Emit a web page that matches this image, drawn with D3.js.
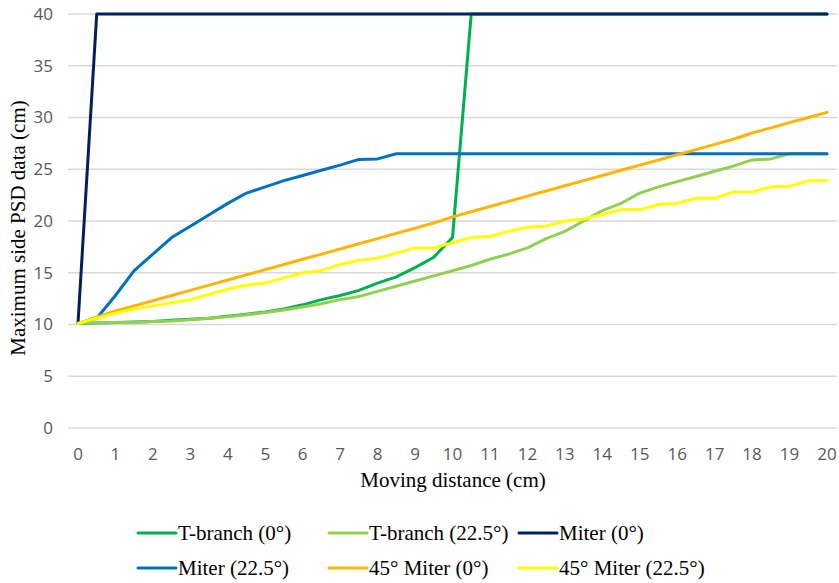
<!DOCTYPE html>
<html>
<head>
<meta charset="utf-8">
<script src="https://cdn.jsdelivr.net/npm/d3@7"></script>
<style>
  body { margin: 0; background: #fff; }
  .tick-label { font-family: "Open Sans", sans-serif; font-size: 17px; fill: #595959; }
  .title { font-family: "Liberation Serif", "Times New Roman", serif; font-size: 21px; fill: #000; }
  .legend-text { font-family: "Liberation Serif", "Times New Roman", serif; font-size: 21px; fill: #000; }
</style>
</head>
<body>
<div id="app"></div>
<script>
// moving distance (cm)
const distance = [0, 0.5, 1, 1.5, 2, 2.5, 3, 3.5, 4, 4.5, 5, 5.5, 6, 6.5, 7, 7.5, 8, 8.5, 9, 9.5, 10,
  10.5, 11, 11.5, 12, 12.5, 13, 13.5, 14, 14.5, 15, 15.5, 16, 16.5, 17, 17.5, 18, 18.5, 19, 19.5, 20]

const tBranch0 = [10.1, 10.15, 10.2, 10.25, 10.3, 10.4, 10.5, 10.6, 10.8, 11.0, 11.2, 11.5, 11.9, 12.4, 12.8, 13.3, 14.0, 14.6, 15.5, 16.5, 18.4,
  40, 40, 40, 40, 40, 40, 40, 40, 40, 40, 40, 40, 40, 40, 40, 40, 40, 40, 40, 40]
const tBranch225 = [10.1, 10.15, 10.2, 10.2, 10.3, 10.35, 10.45, 10.6, 10.75, 10.95, 11.15, 11.4, 11.7, 12.0, 12.4, 12.7, 13.2, 13.7, 14.2, 14.7, 15.2,
  15.7, 16.3, 16.8, 17.4, 18.3, 19.0, 20.0, 21.0, 21.7, 22.7, 23.3, 23.8, 24.3, 24.8, 25.3, 25.9, 26.0, 26.5, 26.5, 26.5]
const miter0 = [10.1, 40, 40, 40, 40, 40, 40, 40, 40, 40, 40, 40, 40, 40, 40, 40, 40, 40, 40, 40, 40,
  40, 40, 40, 40, 40, 40, 40, 40, 40, 40, 40, 40, 40, 40, 40, 40, 40, 40, 40, 40]
const miter225 = [10.1, 10.6, 12.8, 15.2, 16.8, 18.4, 19.5, 20.6, 21.7, 22.7, 23.3, 23.9, 24.4, 24.9, 25.4, 25.95, 26.0, 26.5, 26.5, 26.5, 26.5,
  26.5, 26.5, 26.5, 26.5, 26.5, 26.5, 26.5, 26.5, 26.5, 26.5, 26.5, 26.5, 26.5, 26.5, 26.5, 26.5, 26.5, 26.5, 26.5, 26.5]
const miter45_0 = [10.1, 10.7, 11.3, 11.8, 12.3, 12.8, 13.3, 13.8, 14.3, 14.8, 15.3, 15.8, 16.3, 16.8, 17.3, 17.8, 18.3, 18.8, 19.3, 19.8, 20.4,
  20.9, 21.4, 21.9, 22.4, 22.9, 23.4, 23.9, 24.4, 24.9, 25.4, 25.9, 26.4, 26.9, 27.4, 27.9, 28.5, 29.0, 29.5, 30.0, 30.5]
const miter45_225 = [10.1, 10.6, 11.1, 11.5, 11.8, 12.1, 12.4, 12.9, 13.4, 13.8, 14.0, 14.5, 15.0, 15.2, 15.8, 16.2, 16.4, 16.9, 17.4, 17.4, 17.9,
  18.4, 18.5, 19.0, 19.4, 19.5, 20.0, 20.2, 20.6, 21.1, 21.1, 21.6, 21.7, 22.2, 22.2, 22.8, 22.8, 23.3, 23.35, 23.9, 23.9]

const seriesNames = ["T-branch (0°)", "T-branch (22.5°)", "Miter (0°)", "Miter (22.5°)", "45° Miter (0°)", "45° Miter (22.5°)"]
const seriesValues = [tBranch0, tBranch225, miter0, miter225, miter45_0, miter45_225]
const seriesColors = ["#00B050", "#92D050", "#002060", "#0070C0", "#FFB400", "#FFFF00"]

const xTicks = [0, 1, 2, 3, 4, 5, 6, 7, 8, 9, 10, 11, 12, 13, 14, 15, 16, 17, 18, 19, 20]
const yTicks = [0, 5, 10, 15, 20, 25, 30, 35, 40]

const width = 839
const height = 583

const svg = d3.select('#app').append('svg')
  .attr('width', width)
  .attr('height', height)

const xScale = d3.scaleLinear().domain([0, 20]).range([78, 827])
const yScale = d3.scaleLinear().domain([0, 40]).range([428, 14])
const gridLeft = 68, gridRight = 837

// gridlines
svg.append('g').selectAll('line')
  .data(yTicks).enter().append('line')
  .attr('x1', gridLeft).attr('x2', gridRight)
  .attr('y1', d => yScale(d)).attr('y2', d => yScale(d))
  .attr('stroke', '#d9d9d9')
  .attr('stroke-width', 1.3)

// y tick labels
svg.append('g').selectAll('text')
  .data(yTicks).enter().append('text')
  .attr('class', 'tick-label')
  .attr('x', 53)
  .attr('y', d => yScale(d))
  .attr('dy', '0.35em')
  .attr('text-anchor', 'end')
  .text(d => d)

// x tick labels
svg.append('g').selectAll('text')
  .data(xTicks).enter().append('text')
  .attr('class', 'tick-label')
  .attr('x', d => xScale(d))
  .attr('y', 460)
  .attr('text-anchor', 'middle')
  .text(d => d)

// axis titles
svg.append('text').attr('class', 'title')
  .attr('x', 453).attr('y', 487)
  .attr('text-anchor', 'middle')
  .text('Moving distance (cm)')

svg.append('text').attr('class', 'title')
  .attr('transform', 'translate(25,228) rotate(-90)')
  .attr('text-anchor', 'middle')
  .text('Maximum side PSD data (cm)')

// series lines
const line = d3.line()
  .x((d, i) => xScale(distance[i]))
  .y(d => yScale(d))

svg.append('g').selectAll('path')
  .data(seriesValues).enter().append('path')
  .attr('fill', 'none')
  .attr('stroke', (d, i) => seriesColors[i])
  .attr('stroke-width', 3)
  .attr('stroke-linejoin', 'round')
  .attr('stroke-linecap', 'round')
  .attr('d', d => line(d))

// legend
const legendCols = [138, 329, 519]
const legendRows = [533, 568]
const legend = svg.append('g').selectAll('g')
  .data(seriesNames).enter().append('g')
  .attr('transform', (d, i) => `translate(${legendCols[i % 3]},${legendRows[Math.floor(i / 3)]})`)

legend.append('line')
  .attr('x1', 0).attr('x2', 38)
  .attr('y1', 0).attr('y2', 0)
  .attr('stroke', (d, i) => seriesColors[i])
  .attr('stroke-width', 3)
  .attr('stroke-linecap', 'round')

legend.append('text')
  .attr('class', 'legend-text')
  .attr('x', 40)
  .attr('y', 0)
  .attr('dy', '0.35em')
  .text(d => d)
</script>
</body>
</html>
